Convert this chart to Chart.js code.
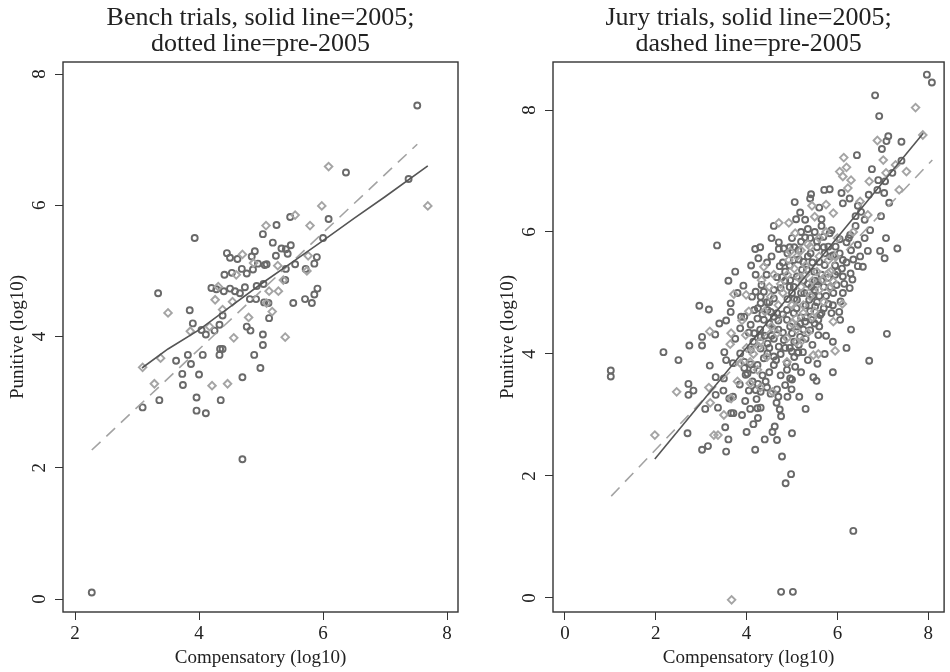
<!DOCTYPE html>
<html>
<head>
<meta charset="utf-8">
<script src="https://cdn.jsdelivr.net/npm/chart.js@4.4.1/dist/chart.umd.min.js"></script>
<style>
  html, body { margin: 0; padding: 0; background: #fff; }
  #wrap { position: relative; width: 950px; height: 672px; }
  canvas { position: absolute; top: 0; }
  #bench { left: 0; }
  #jury { left: 475px; }
</style>
</head>
<body>
<div id="wrap">
  <canvas id="bench" width="475" height="672"></canvas>
  <canvas id="jury" width="475" height="672"></canvas>
</div>
<script>
// ---- data: [compensatory, punitive] in log10 ----
const benchPre = [
  [3.34,4.66],[3.85,4.40],[3.90,4.20],[4.41,4.94],[4.53,4.97],[4.69,5.03],[4.77,4.96],[4.87,5.02],
  [4.95,5.11],[5.06,5.09],[5.09,5.10],[4.20,4.74],[4.28,4.72],[4.40,4.69],[4.50,4.73],[4.58,4.69],
  [4.66,4.66],[4.74,4.75],[4.93,4.77],[5.04,4.80],[4.82,4.57],[4.92,4.57],[5.05,4.52],[5.12,4.51],
  [5.40,5.03],[5.55,5.10],[5.39,4.86],[5.72,5.03],[5.86,5.11],[5.91,4.73],[5.86,4.64],[5.71,4.57],
  [5.82,4.51],[5.52,4.51],[5.13,4.28],[4.38,4.32],[4.33,4.18],[4.25,4.09],[4.11,4.03],[4.04,4.10],
  [4.77,4.15],[4.83,4.09],[5.03,4.03],[5.03,3.87],[4.89,3.72],[4.99,3.52],[4.70,3.38],[4.34,3.81],
  [4.38,3.81],[4.33,3.72],[4.06,3.72],[3.82,3.72],[3.63,3.63],[3.87,3.58],[3.73,3.43],[4.00,3.42],
  [3.74,3.26],[3.96,3.07],[4.35,3.03],[3.96,2.87],[4.11,2.83],[3.36,3.03],[3.09,2.92],[4.70,2.13],
  [6.37,6.50],[7.38,6.40],[6.09,5.79],[6.00,5.50],[5.25,5.70],[5.47,5.82],[5.03,5.56],[5.19,5.43],
  [5.33,5.34],[5.40,5.33],[5.48,5.39],[5.43,5.26],[5.24,5.23],[5.90,5.21],[2.27,0.10],[7.52,7.52],
  [3.93,5.50],[4.45,5.27],[4.50,5.20],[4.62,5.18],[4.85,5.22],[4.90,5.30]
];
const bench2005 = [
  [3.09,3.53],[3.38,3.67],[3.50,4.36],[3.28,3.28],[4.21,3.25],[4.46,3.28],[4.56,3.98],[4.80,4.29],
  [5.39,3.99],[3.86,4.08],[4.17,4.15],[4.26,4.56],[4.31,4.76],[4.38,4.41],[4.54,4.53],[4.60,4.94],
  [5.13,4.69],[5.28,4.69],[5.09,4.51],[5.18,4.38],[5.27,5.08],[5.36,4.86],[5.74,5.00],[4.88,5.12],
  [6.09,6.59],[7.69,5.99],[5.98,5.99],[5.55,5.85],[5.79,5.69],[5.08,5.69],[5.76,5.23],[4.70,5.25]
];
const benchFit2005 = [[3.08,3.52],[3.5,3.81],[4.0,4.10],[4.5,4.45],[5.0,4.80],[5.5,5.13],[6.0,5.46],[6.5,5.80],[7.0,6.13],[7.69,6.60]];
const benchFitPre = [[2.27,2.27],[7.52,6.93]];

const juryPre = [
  [1.01,3.73],[1.01,3.63],[2.17,4.03],[2.50,3.90],[2.96,4.79],[3.17,4.73],[3.65,4.83],[3.65,4.69],
  [3.02,4.28],[3.02,4.14],[3.31,4.32],[2.74,4.14],[3.51,4.03],[3.55,3.90],[3.19,3.81],[2.72,3.51],
  [2.72,3.33],[2.83,3.40],[3.32,3.62],[3.32,3.33],[3.49,3.40],[3.09,3.10],[3.37,3.12],[2.70,2.70],
  [3.02,2.43],[3.15,2.49],[3.55,2.40],[3.53,2.80],[4.00,2.72],[4.15,2.85],[4.19,2.43],[4.57,2.72],
  [4.62,2.81],[4.67,2.59],[4.78,2.32],[4.98,2.03],[4.86,1.88],[3.97,3.23],[4.08,3.10],[4.24,3.11],
  [4.31,3.12],[4.22,3.26],[4.31,3.38],[3.66,3.03],[3.71,3.03],[3.62,3.27],[3.70,3.30],[4.66,3.20],
  [4.73,3.09],[4.76,2.98],[4.53,3.35],[4.67,3.42],[4.85,3.49],[4.99,3.42],[5.16,3.30],[5.00,3.58],
  [4.89,3.74],[5.47,3.62],[5.54,3.56],[5.56,3.84],[5.72,4.00],[5.14,4.03],[5.24,4.03],[5.58,4.31],
  [6.06,4.56],[6.04,4.69],[5.80,4.82],[4.25,3.51],[4.42,3.55],[4.13,3.55],[4.20,3.41],[4.15,3.74],
  [4.02,3.68],[3.95,3.87],[3.86,4.01],[3.86,4.42],[4.09,4.48],[3.95,3.77],[4.09,3.83],[4.38,3.93],
  [4.60,3.82],[4.60,3.96],[4.89,3.85],[5.07,3.79],[4.71,4.12],[5.00,4.04],[5.12,4.02],[4.82,4.23],
  [5.00,4.34],[5.11,4.45],[5.29,4.53],[5.43,4.56],[5.62,4.64],[5.40,4.39],[5.18,4.28],[4.89,4.56],
  [4.60,4.61],[4.38,4.56],[4.24,4.58],[4.17,4.72],[4.31,4.83],[4.53,4.69],[4.17,4.34],[4.31,4.28],
  [4.46,4.17],[4.31,4.09],[4.46,4.01],[4.09,4.07],[4.24,3.82],[3.98,3.66],[4.96,3.60],
  [3.35,5.78],[5.06,6.49],[5.18,6.32],[5.09,6.21],[5.29,6.20],[4.19,5.72],[4.26,5.57],[4.44,5.30],
  [4.71,5.83],[4.71,5.72],[4.82,5.73],[4.73,5.44],[4.67,5.26],[4.78,5.26],[5.20,5.84],[5.29,5.91],
  [3.93,5.12],[4.33,5.13],[4.38,5.02],[4.12,4.94],[4.75,5.08],[4.96,5.21],[5.04,5.10],[5.11,5.27],
  [5.22,5.38],[5.25,5.51],[5.14,5.70],[4.60,4.91],
  [7.97,8.58],[8.08,8.45],[6.83,8.24],[6.92,7.90],[7.12,7.57],[7.08,7.49],[7.41,7.48],[6.98,7.36],[6.43,7.26],
  [6.76,7.03],[7.41,7.17],[7.21,6.97],[6.90,6.85],[7.05,6.83],[7.03,6.64],[7.14,6.48],[6.96,6.26],
  [6.72,6.03],[7.07,5.90],[7.32,5.73],[6.94,5.69],[7.04,5.57],[6.67,5.69],[5.42,6.62],[5.40,6.55],
  [5.71,6.69],[5.83,6.70],[6.09,6.64],[6.27,6.55],[5.60,6.40],[5.65,6.21],[6.12,6.47],[6.45,6.43],
  [6.52,6.33],[6.69,6.61],[6.88,6.69],[6.40,6.26],[6.28,5.95],[6.20,5.83],[6.45,5.79],[6.50,5.60],
  [6.56,5.43],[6.45,5.44],[6.29,5.32],[6.33,5.22],[6.27,5.08],[6.12,5.00],[6.07,4.86],[5.83,5.98],
  [5.87,6.03],[5.69,5.92],[6.05,5.88],[5.96,5.76],[5.80,5.76],[5.91,5.62],[5.72,5.65],[5.60,5.51],
  [5.72,5.46],[5.41,5.65],[5.04,5.54],[6.12,5.54],[5.33,5.38],[5.49,5.35],[5.56,5.19],[5.43,5.10],
  [5.27,5.00],[5.38,4.89],[5.51,4.78],[5.65,4.67],[5.58,4.56],[5.91,5.00],[5.98,5.13],[6.12,5.27],
  [5.87,4.67],[5.11,4.89],[5.04,4.67],[4.89,4.72],[5.18,4.50],[4.96,4.45],[3.88,4.61],[3.95,4.61],
  [4.20,5.02],[4.31,4.94],[4.46,4.72],[4.67,4.67],
  [7.09,4.33],[6.70,3.89],[6.35,1.10],[4.76,0.10],[5.02,0.10],
  [4.90,4.90],[5.00,5.00],[5.10,4.75],[5.20,4.60],[5.30,4.80],[5.45,4.95],[5.50,5.05],[5.60,4.95],
  [5.70,5.10],[4.85,5.35],[4.95,5.45],[5.15,5.55],[5.35,5.60],[5.45,5.50],[5.55,5.75],[4.60,5.05],
  [4.50,4.85],[4.70,4.40],[4.80,4.35],[4.55,4.30],[5.30,4.25],[5.45,4.15],[5.05,4.20],[4.95,4.10],
  [5.25,4.40],[5.60,4.45],[5.75,4.30],[5.90,4.20],[5.35,3.90],[5.20,3.70],[4.75,3.65],[5.65,5.30],
  [5.80,5.25],[6.00,5.35],[5.95,5.45],[6.05,5.65],[6.20,5.50],[6.15,5.15],[6.30,5.70],[5.50,6.00],
  [5.65,6.10],[5.35,6.05],[5.00,5.90],[4.95,5.75],[4.45,5.50],[4.55,5.60],
  [4.30,4.40],[4.40,4.30],[4.50,4.50],[4.60,4.40],[4.70,4.55],[4.80,4.65],[4.35,4.65],[4.45,4.85],
  [4.25,4.75],[4.15,4.20],[4.05,4.35],[4.50,4.10],[4.60,4.25],[4.75,4.00],[4.85,4.10],[4.65,3.90],
  [4.50,3.70],[4.35,3.65],[4.45,3.45],[4.70,3.30],[4.90,3.30],[5.05,3.95],[5.15,4.15],[5.30,4.60],
  [5.40,4.70],[5.50,4.50],[5.55,4.85],[5.70,4.75],[5.75,4.95],[5.85,5.10],[5.90,4.80],[5.65,5.20],
  [5.50,5.20],[5.35,5.15],[5.25,5.20],[5.20,5.00],[5.05,4.90],[4.95,5.10],[4.85,5.20],[4.80,5.50],
  [4.90,5.65],[5.05,5.75],[5.20,6.00],[5.40,5.90],[5.55,5.85],[5.70,5.75],[5.85,5.60],[5.95,5.30],
  [6.10,5.40],[6.25,5.90],[6.40,6.10],[6.60,6.20],[6.35,5.55],[6.60,5.90],[4.20,5.30],[4.10,5.45],
  [4.30,5.75],[4.55,5.90],[4.60,6.10],[3.75,5.35],[3.80,5.00],[3.60,5.20],[3.55,4.55],[3.40,4.50],
  [3.75,4.25],[3.70,3.85],[3.85,3.50],[3.50,3.60],[4.05,3.40],[4.25,2.95],[3.90,3.00],[3.60,2.60],
  [4.40,2.60],[5.00,2.70],[5.30,3.10],[5.60,3.30],[5.90,3.70],[6.20,4.10],[6.30,4.40]
];
const jury2005 = [
  [1.98,2.67],[2.46,3.38],[3.17,3.45],[3.19,4.37],[3.66,4.34],[3.64,4.16],[3.98,4.31],[3.86,3.85],
  [4.08,3.87],[3.80,3.55],[4.08,3.52],[3.66,3.27],[3.28,2.67],[3.37,2.67],[4.57,3.38],[4.89,3.87],
  [5.22,4.22],[5.47,3.98],[5.58,4.00],[5.95,4.05],[6.11,4.82],[4.24,3.74],[4.27,4.12],[4.67,4.34],
  [4.89,4.26],[5.09,4.58],[5.25,4.67],
  [4.71,6.15],[4.93,6.15],[5.07,5.98],[4.38,5.43],[4.33,5.21],[3.72,4.98],[3.99,4.97],[4.53,4.94],
  [4.96,5.68],[5.11,5.60],[4.93,5.54],
  [7.72,8.04],[7.88,7.59],[6.88,7.50],[6.14,7.22],[6.20,7.06],[6.05,6.99],[6.12,6.91],[7.01,7.18],
  [7.07,6.97],[7.28,7.10],[7.52,6.99],[7.36,6.69],[6.70,6.83],[6.23,6.72],[5.44,6.43],[5.91,6.31],
  [6.67,6.28],[5.40,5.76],[5.80,5.54],[5.91,5.19],[5.80,5.32],[5.69,5.21],[5.83,5.08],[5.91,4.53],
  [3.67,-0.03],
  [5.20,5.10],[5.00,4.80],[5.30,5.30],[5.50,4.70],[4.80,5.00],[5.60,5.60],[5.10,4.40],[4.70,4.80],
  [5.15,5.25],[5.30,5.45],[5.45,5.20],[5.55,5.35],[5.60,5.05],[5.40,4.95],[5.25,4.80],[5.45,4.60],
  [5.70,4.85],[5.85,5.35],[5.95,5.60],[6.00,5.90],[5.75,6.00],[5.60,5.90],[5.35,5.80],[5.20,5.70],
  [5.05,5.40],[4.90,5.30],[4.75,5.15],[4.60,5.30],[4.50,5.10],[4.40,4.70],[4.55,4.45],[4.30,4.20],
  [4.15,4.00],[4.00,4.10],[3.90,4.55],[4.05,4.70],[5.00,4.50],[5.10,4.20],[5.35,4.35],[6.35,6.00],
  [6.50,6.50],[6.30,6.85],[5.50,6.25],[5.75,6.45],[4.30,3.45],[4.45,3.95],[3.50,3.00],[3.20,3.20]
];
const juryFit2005 = [[1.98,2.28],[7.89,7.62]];
const juryFitPre = [[1.02,1.67],[8.09,7.18]];

const benchXTicks = [2, 4, 6, 8];
const juryXTicks = [0, 2, 4, 6, 8];
const yTicks = [0, 2, 4, 6, 8];

const benchTitle = ['Bench trials, solid line=2005;', 'dotted line=pre-2005'];
const juryTitle = ['Jury trials, solid line=2005;', 'dashed line=pre-2005'];

// ---- drawing ----
const FONT = "'Liberation Serif', 'Times New Roman', serif";
const INK = '#222';

// box round the plot area
const frame = {
  id: 'frame',
  afterDraw(chart) {
    const a = chart.chartArea, ctx = chart.ctx;
    ctx.save();
    ctx.strokeStyle = '#333';
    ctx.lineWidth = 1.4;
    ctx.strokeRect(a.left, a.top, a.right - a.left, a.bottom - a.top);
    ctx.restore();
  }
};

function toPts(arr) {
  return arr.map(p => ({ x: p[0], y: p[1] }));
}

function drawPanel(id, o) {
  new Chart(document.getElementById(id), {
    type: 'scatter',
    data: {
      datasets: [
        { data: toPts(o.fitNew), showLine: true, pointRadius: 0, borderColor: '#555', borderWidth: 1.6, order: 0 },
        { data: toPts(o.fitOld), showLine: true, pointRadius: 0, borderColor: '#a3a3a3', borderWidth: 1.6, borderDash: [12, 8], order: 1 },
        { data: toPts(o.newPts), pointStyle: 'rectRot', pointRadius: 3.8, borderColor: '#a4a4a4', backgroundColor: 'transparent', borderWidth: 1.9, order: 2 },
        { data: toPts(o.oldPts), pointStyle: 'circle', pointRadius: 3, borderColor: '#696969', backgroundColor: 'transparent', borderWidth: 1.9, order: 3 }
      ]
    },
    options: {
      responsive: false,
      animation: false,
      events: [],
      layout: { padding: { left: o.padLeft, right: o.padRight, top: 0, bottom: 0 } },
      plugins: {
        legend: { display: false },
        tooltip: { enabled: false },
        title: {
          display: true, text: o.title, fullSize: false, color: INK,
          font: { family: FONT, size: 26, weight: 'normal', lineHeight: 1.0 },
          padding: { top: 5.5, bottom: 4.5 }
        }
      },
      scales: {
        x: {
          type: 'linear', min: o.xMin, max: o.xMax,
          afterFit: s => { s.height = 60; },
          afterBuildTicks: s => { s.ticks = o.xTicks.map(v => ({ value: v })); },
          grid: { drawOnChartArea: false, drawTicks: true, tickLength: 8, color: '#333', lineWidth: 1 },
          border: { display: false },
          ticks: { color: INK, font: { family: FONT, size: 19 }, padding: 2.6, minRotation: 0, maxRotation: 0, callback: v => String(v) },
          title: { display: true, text: 'Compensatory (log10)', color: INK, font: { family: FONT, size: 19 }, padding: { top: 0, bottom: 2.1 } }
        },
        y: {
          type: 'linear', min: o.yMin, max: o.yMax,
          afterFit: s => { s.width = 63; },
          afterBuildTicks: s => { s.ticks = yTicks.map(v => ({ value: v })); },
          grid: { drawOnChartArea: false, drawTicks: true, tickLength: 8, color: '#333', lineWidth: 1 },
          border: { display: false },
          ticks: { color: INK, font: { family: FONT, size: 19 }, padding: 10.25, minRotation: 90, maxRotation: 90, crossAlign: 'center', callback: v => String(v) },
          title: { display: true, text: 'Punitive (log10)', color: INK, font: { family: FONT, size: 19 }, padding: { top: 6.6, bottom: 0 } }
        }
      }
    },
    plugins: [frame]
  });
}

drawPanel('bench', {
  title: benchTitle, oldPts: benchPre, newPts: bench2005, fitOld: benchFitPre, fitNew: benchFit2005,
  xTicks: benchXTicks, xMin: 1.806, xMax: 8.177, yMin: -0.198, yMax: 8.183, padLeft: 0, padRight: 17
});
drawPanel('jury', {
  title: juryTitle, oldPts: juryPre, newPts: jury2005, fitOld: juryFitPre, fitNew: juryFit2005,
  xTicks: juryXTicks, xMin: -0.262, xMax: 8.349, yMin: -0.23, yMax: 8.787, padLeft: 15, padRight: 2
});
</script>
</body>
</html>
